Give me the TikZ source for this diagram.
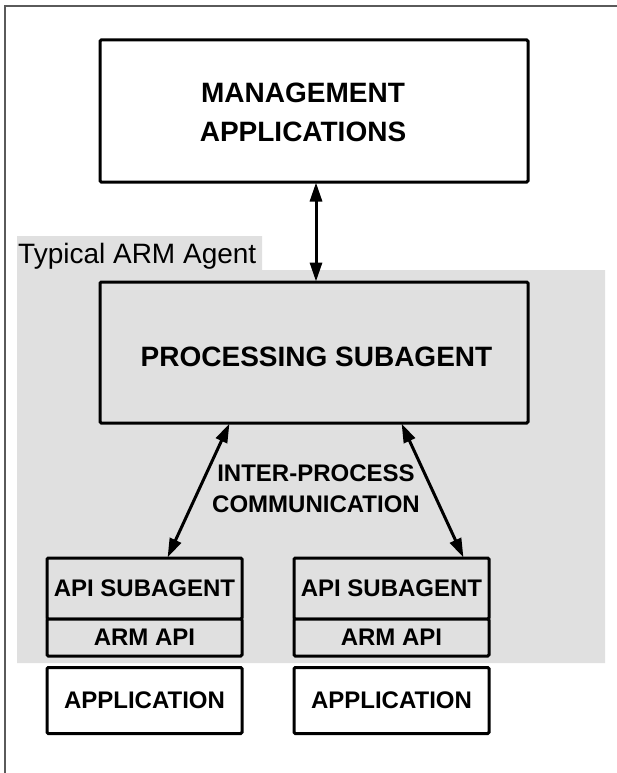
\documentclass[tikz,border=0pt]{standalone}
\usepackage{fontspec}
\setmainfont{Liberation Sans}
\usetikzlibrary{arrows.meta}
\definecolor{agentgray}{HTML}{E0E0E0}
\definecolor{framegray}{HTML}{5A5A5A}
\tikzset{
  box/.style={draw=black, line width=3pt, rounded corners=1.2pt, inner sep=0pt, font=\bfseries\fontsize{24}{31}\selectfont},
  bigbox/.style={box, font=\bfseries\fontsize{28}{39}\selectfont},
  link/.style={line width=3pt, {Triangle[length=19pt,width=12pt]}-{Triangle[length=19pt,width=12pt]}, shorten <=-1pt, shorten >=-1pt},
  lbl/.style={inner sep=0pt, align=center}
}
\begin{document}
\begin{tikzpicture}[x=1pt,y=-1pt]
\useasboundingbox (0,0) rectangle (616,773);
\fill[white] (0,0) rectangle (616,773);
% outer frame (continues past right and bottom edges)
\draw[framegray, line width=1.6pt] (5,790) -- (5,6) -- (630,6);
% agent region
\fill[agentgray] (17,236) -- (262,236) -- (262,270) -- (605,270) -- (605,663) -- (17,663) -- cycle;
\node[lbl, anchor=base west, font=\fontsize{28}{34}\selectfont] (agentlabel) at (18,263.5) {Typical ARM Agent};
% management applications
\node[bigbox, fill=white, minimum width=428pt, minimum height=142pt] (mgmt) at (314,111) {};
\node[lbl, font=\bfseries\fontsize{28}{39}\selectfont] (mgmttext) at (303,112.5) {MANAGEMENT\\APPLICATIONS};
% processing subagent
\node[bigbox, fill=agentgray, minimum width=428pt, minimum height=141pt] (proc) at (314,352.5) {};
\node[lbl, font=\bfseries\fontsize{28}{39}\selectfont] (proctext) at (316.5,357) {PROCESSING SUBAGENT};
% left column
\node[box, fill=agentgray, minimum width=195pt, minimum height=61pt] (api1) at (144.5,588.5) {API SUBAGENT};
\node[box, fill=agentgray, minimum width=195pt, minimum height=37pt] (arm1) at (144.5,637.5) {ARM API};
\node[box, fill=white, minimum width=195pt, minimum height=66pt] (app1) at (144.5,700.5) {APPLICATION};
% right column
\node[box, fill=agentgray, minimum width=195pt, minimum height=61pt] (api2) at (391.5,588.5) {API SUBAGENT};
\node[box, fill=agentgray, minimum width=195pt, minimum height=37pt] (arm2) at (391.5,637.5) {ARM API};
\node[box, fill=white, minimum width=195pt, minimum height=66pt] (app2) at (391.5,700.5) {APPLICATION};
% IPC label
\node[lbl, font=\bfseries\fontsize{24}{31}\selectfont] (ipc) at (316,489) {INTER-PROCESS\\COMMUNICATION};
% connectors
\draw[link] ([xshift=2pt]mgmt.south) -- ([xshift=2pt]proc.north);
\draw[link] ([xshift=-85pt]proc.south) -- ([xshift=23.5pt]api1.north);
\draw[link] ([xshift=88pt]proc.south) -- ([xshift=71.5pt]api2.north);
\end{tikzpicture}
\end{document}
